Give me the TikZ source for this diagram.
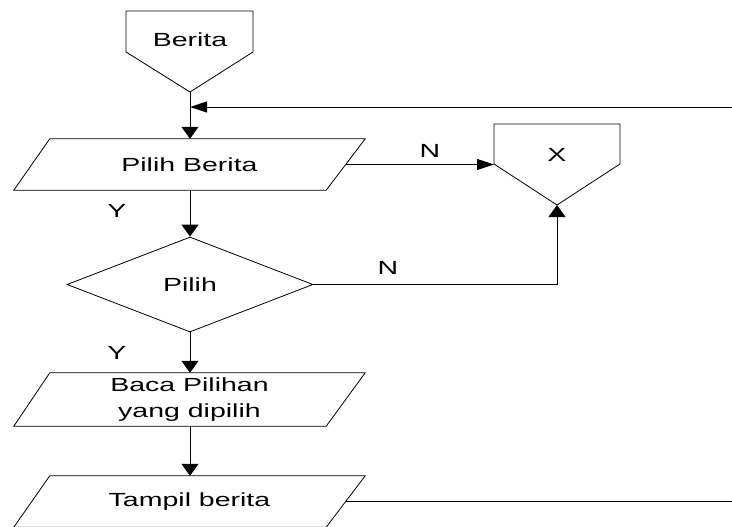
\documentclass[tikz,border=0pt]{standalone}
\usepackage{fontspec}
\setmainfont{Liberation Sans}
\usepackage{graphicx}
\usetikzlibrary{positioning,arrows.meta,shapes.geometric}
\newcommand{\wide}[1]{\scalebox{1.5}[1]{#1}}

\begin{document}
\begin{tikzpicture}[
    x=1pt,y=-1pt,
    every node/.style={
        font=\fontsize{19}{26}\selectfont,
    },
    flow/.style={
        line width=.8pt,
    },
    io_box/.style={
        minimum width=351pt,minimum height=51pt,inner sep=0pt,
        append after command={\pgfextra{
            \draw [flow]([xshift=36pt]\tikzlastnode.north west) -- (\tikzlastnode.north east)
                -- ([xshift=-39pt]\tikzlastnode.south east) -- (\tikzlastnode.south west) -- cycle;
        }},
    },
    dec_box/.style={
        draw,diamond,minimum width=246pt,minimum height=95pt,inner sep=0pt,line width=.8pt,
    },
    down_arrow/.style={
        ->,line width=.8pt,>={Triangle[length=12pt,width=17pt]},
    },
    side_arrow/.style={
        ->,line width=.8pt,>={Triangle[length=17pt,width=11pt]},
    }
]
    \useasboundingbox (0,0) rectangle (732,527);

    \draw [flow](126,11) -- (253,11) -- (253,52) -- (190,92) -- (126,52) -- cycle;
    \coordinate (berita_tip) at (190,92);
    \node at (190,40) (berita) {\wide{Berita}};

    \draw [flow](494,124) -- (620,124) -- (620,164) -- (557,205) -- (494,164) -- cycle;
    \coordinate (x_left) at (494,164);
    \coordinate (x_tip) at (557,205);
    \node at (557,155) (x_label) {\wide{X}};

    \coordinate (loop_in) at (732,107);
    \coordinate (loop_out) at (732,501);

    \node[io_box] at (189.5,164.5) (pilih_berita) {\wide{Pilih Berita}};
    \node[dec_box] at (190,284.5) (pilih) {\wide{Pilih}};
    \node[io_box,minimum height=53pt,align=center] at (189.5,399.5) (baca) {\wide{Baca Pilihan}\\\wide{yang dipilih}};
    \node[io_box] at (189.5,501.5) (tampil) {\wide{Tampil berita}};

    \node at (430,151) (n1) {\wide{N}};
    \node at (388,268) (n2) {\wide{N}};
    \node at (117,211) (y1) {\wide{Y}};
    \node at (117,353) (y2) {\wide{Y}};

    \draw [side_arrow](loop_in) to (loop_in -| berita_tip);
    \draw [down_arrow](berita_tip) to (berita_tip |- pilih_berita.north);
    \draw [side_arrow]([xshift=-19pt]pilih_berita.east) to (pilih_berita.east -| x_left);
    \draw [down_arrow](pilih.north |- pilih_berita.south) to (pilih.north);
    \draw [down_arrow](pilih.east) -| (x_tip);
    \draw [down_arrow](pilih.south) to (pilih.south |- baca.north);
    \draw [down_arrow](pilih.south |- baca.south) to (pilih.south |- tampil.north);
    \draw [flow]([xshift=-19pt]tampil.east) to (tampil.east -| loop_out);

\end{tikzpicture}
\end{document}
